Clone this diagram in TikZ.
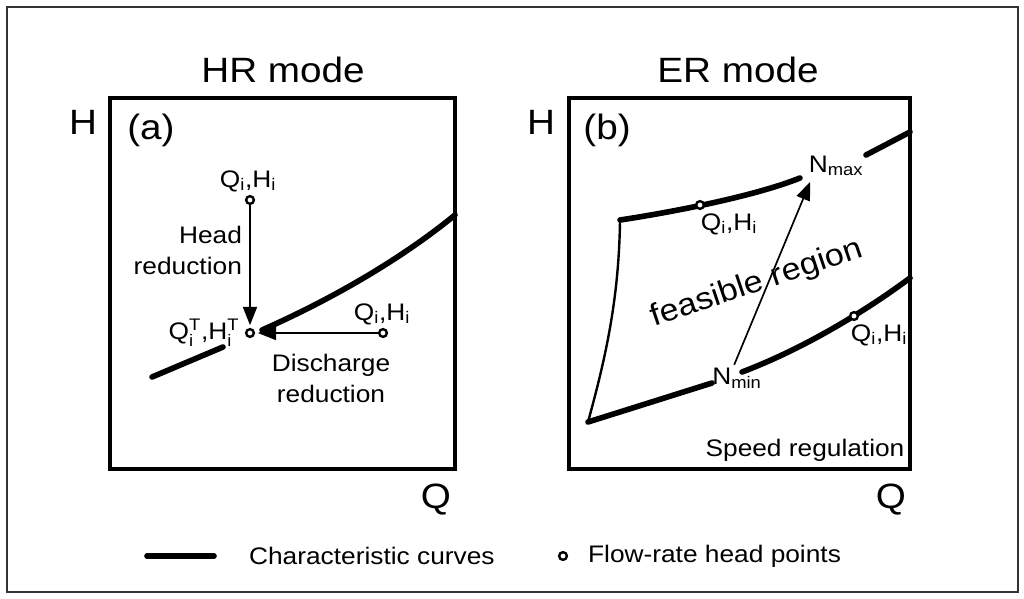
\documentclass[tikz,border=0pt]{standalone}
\usepackage{fontspec}
\setmainfont{Liberation Sans}[FakeStretch=1.1]
\usepackage{amsmath}
\usetikzlibrary{arrows.meta}

\newcommand{\QH}{Q$_{\text{i}}$,H$_{\text{i}}$}
\newcommand{\QHT}{Q$_{\text{i}}^{\text{T}}$,H$_{\text{i}}^{\text{T}}$}

\begin{document}
\begin{tikzpicture}[x=0.025cm, y=-0.025cm,
		curve/.style={line width=4pt, line cap=round},
		frame/.style={line width=3.4pt},
		pt/.style={draw, circle, line width=1.7pt, fill=white, inner sep=0pt, minimum size=5.5pt},
		lbl/.style={font=\fontsize{17}{22}\selectfont, inner sep=2pt},
		big/.style={font=\fontsize{25}{28}\selectfont},
		arr/.style={line width=1.2pt, shorten >=2pt, -{Triangle[length=13pt, width=10pt]}}]
		\useasboundingbox (0,0) rectangle (1024,598);
		\draw[line width=1.6pt, black!80] (7,7) rectangle (1018,592);

		\node[big] (ta) at (283,70) {HR mode};
		\node[big] (tb) at (738,70) {ER mode};
		\draw[frame] (110,98) rectangle (455,469);
		\draw[frame] (569,98) rectangle (910,469);
		\node[big] (ha) at (83,122) {H};
		\node[big] (hb) at (541,122) {H};
		\node[big] (qa) at (436,500) {Q};
		\node[big] (qb) at (891,500) {Q};
		\node[big] (la) at (151,130) {(a)};
		\node[big] (lb) at (607,130) {(b)};

		\draw[curve] (152,377) -- (223,347);
		\draw[curve] (262,330) .. controls (330,300) and (400,260) .. (455,215);

		\node[pt] (a0) at (250,333) {};
		\node[pt] (a1) at (250,200) {};
		\node[pt] (a2) at (383,333) {};
		\draw[arr] (a1) -- (a0);
		\draw[arr] (a2) -- (a0);

		\node[lbl] (ta1) at (248,181) {\QH};
		\node[lbl, align=right, anchor=east] (hr) at (245,250) {Head\\reduction};
		\node[lbl] (ta0) at (204,333) {\QHT};
		\node[lbl] (ta2) at (382,314) {\QH};
		\node[lbl, align=center] (dr) at (331,378) {Discharge\\reduction};

		\draw[curve] (620,220) .. controls (660,214) and (750,198) .. (800,178);
		\draw[curve] (866,155) -- (910,132);
		\draw[line width=1.7pt] (620,220) .. controls (619,300) and (605,360) .. (588,422);
		\draw[curve] (588,422) -- (712,383);
		\draw[curve] (742,372) .. controls (800,350) and (860,315) .. (910,278);

		\node[pt] (b1) at (700,205) {};
		\node[pt] (b2) at (854,316) {};
		\node[lbl] (tb1) at (729,224) {\QH};
		\node[lbl] (tb2) at (879,335) {\QH};
		\node[lbl] (nmax) at (836,166) {N$_{\text{max}}$};
		\node[lbl] (nmin) at (737,378) {N$_{\text{min}}$};
		\draw[arr] ([xshift=-2pt]nmin.north) -- ([xshift=4pt]nmax.south west);
		\node[font=\fontsize{22}{24}\selectfont, rotate=18.6] (fr) at (757,284) {feasible region};
		\node[lbl] (sr) at (805,450) {Speed regulation};

		\draw[curve] (147,556) -- (214,556);
		\node[lbl, anchor=west] (lg1) at (246,556) {Characteristic curves};
		\node[pt] (lgp) at (563,556) {};
		\node[lbl, anchor=west] (lg2) at (585,556) {Flow-rate head points};
	\end{tikzpicture}
\end{document}
